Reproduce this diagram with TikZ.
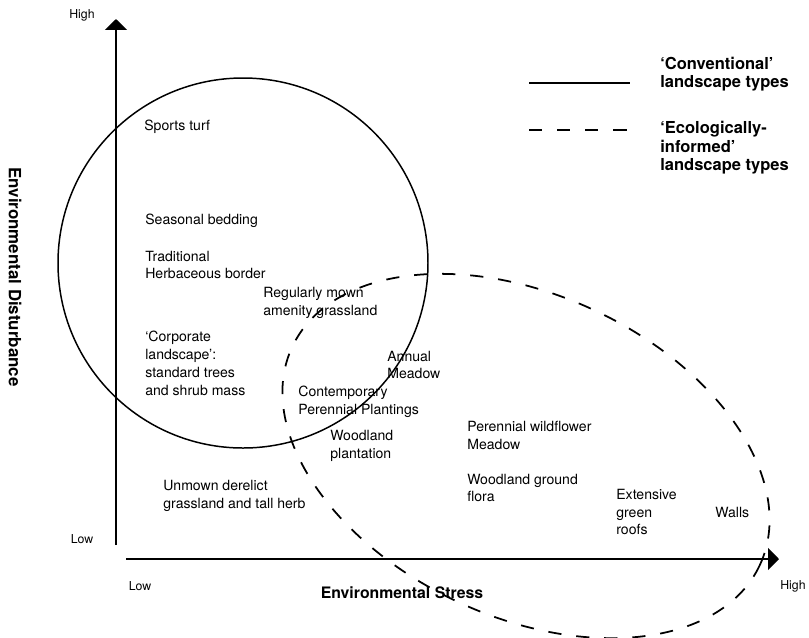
\documentclass[tikz,border=0pt]{standalone}
\usepackage{fontspec}
\setmainfont{TeX Gyre Heros}
\usetikzlibrary{arrows.meta}

\begin{document}
\begin{tikzpicture}[x=0.02cm, y=-0.02cm,
  axis/.style={line width=1.1pt, -{Triangle[length=6.2pt, width=12.4pt]}},
  conv/.style={line width=0.85pt},
  eco/.style={line width=1pt, dash pattern=on 7.5pt off 8.5pt},
  item/.style={anchor=west, align=left, inner sep=0pt, font=\fontsize{8}{10.2}\selectfont},
  legtext/.style={anchor=west, align=left, inner sep=0pt, font=\fontsize{9.4}{10.6}\selectfont\bfseries},
  tick/.style={inner sep=0pt, font=\fontsize{7}{8}\selectfont},
  title/.style={inner sep=0pt, font=\fontsize{9}{11}\selectfont\bfseries}]
  \useasboundingbox (0,0) rectangle (809,637);

  \coordinate (ybot) at (116,545);
  \coordinate (ytop) at (116,19);
  \coordinate (xleft) at (126,559);
  \coordinate (xright) at (779,559);
  \draw[axis] (ybot) -- (ytop);
  \draw[axis] (xleft) -- (xright);
  \node[tick] (yhigh) at (82,15) {High};
  \node[tick] (ylow) at (82,539) {Low};
  \node[tick] (xlow) at (140,586) {Low};
  \node[tick] (xhigh) at (793,586) {High};
  \node[title] (xtitle) at (402,593) {Environmental Stress};
  \node[title, font=\fontsize{9.6}{11}\selectfont\bfseries, rotate=-90] (ytitle) at (15,277) {Environmental Disturbance};

  \coordinate (convc) at (243,263);
  \draw[conv] (convc) circle [radius=185];
  \coordinate (ecoc) at (526,456);
  \draw[eco, rotate around={-25:(ecoc)}] (ecoc) ellipse [x radius=258, y radius=161];

  \coordinate (conva) at (529,83);
  \coordinate (convb) at (630,83);
  \draw[conv] (conva) -- (convb);
  \coordinate (ecoa) at (529,130);
  \coordinate (ecob) at (630,130);
  \draw[eco] (ecoa) -- (ecob);
  \node[legtext] (convtext) at (660,74) {‘Conventional’\\landscape types};
  \node[legtext] (ecotext) at (660,148) {‘Ecologically-\\informed’\\landscape types};

  \node[item] (sports) at (144,127) {Sports turf};
  \node[item] (seasonal) at (145,221) {Seasonal bedding};
  \node[item] (border) at (145,265) {Traditional\\Herbaceous border};
  \node[item] (mown) at (263,303) {Regularly mown\\amenity grassland};
  \node[item] (corporate) at (145,363) {‘Corporate\\landscape’:\\standard trees\\and shrub mass};
  \node[item] (annual) at (387,365) {Annual\\Meadow};
  \node[item] (perennial) at (298,402) {Contemporary\\Perennial Plantings};
  \node[item] (plantation) at (330,446) {Woodland\\plantation};
  \node[item] (wildflower) at (467,435) {Perennial wildflower\\Meadow};
  \node[item] (groundflora) at (467,488) {Woodland ground\\flora};
  \node[item] (unmown) at (163,496) {Unmown derelict\\grassland and tall herb};
  \node[item] (roofs) at (616,512) {Extensive\\green\\roofs};
  \node[item] (walls) at (715,512) {Walls};
\end{tikzpicture}
\end{document}
